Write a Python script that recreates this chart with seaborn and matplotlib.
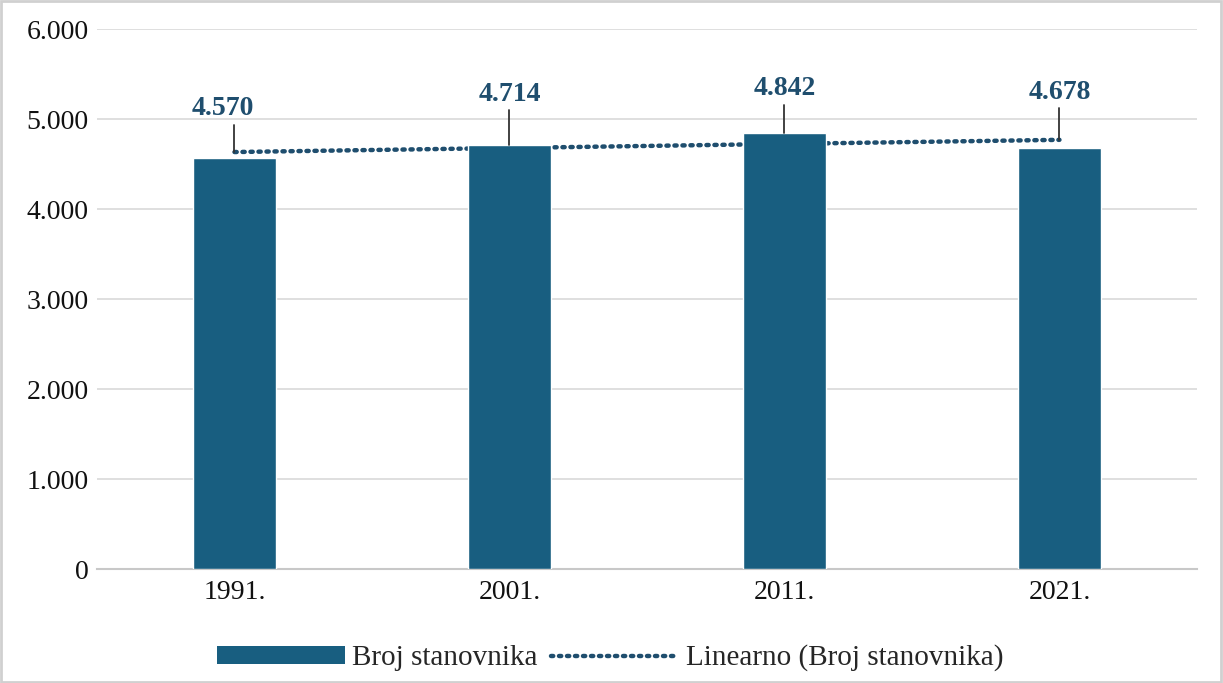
import numpy as np
import pandas as pd
import matplotlib
matplotlib.use("Agg")
import matplotlib.pyplot as plt
import seaborn as sns
from matplotlib.lines import Line2D
from matplotlib.patches import Patch, Rectangle

years = ["1991.", "2001.", "2011.", "2021."]
population = [4570, 4714, 4842, 4678]
yticks = [0, 1000, 2000, 3000, 4000, 5000, 6000]
ytick_labels = ["0", "1.000", "2.000", "3.000", "4.000", "5.000", "6.000"]
value_labels = ["4.570", "4.714", "4.842", "4.678"]

bar_color = "#185E80"
label_color = "#1F4E6E"

sns.set_theme(style="white")
plt.rcParams["font.family"] = ["Liberation Serif", "DejaVu Serif"]

fig = plt.figure(figsize=(12.23, 6.83), dpi=100)
ax = fig.add_axes([0.0793, 0.1669, 0.8994, 0.7906])

df = pd.DataFrame({"year": years, "pop": population})

# trend line (linear fit) drawn below bars
xs = np.arange(len(years))
coef = np.polyfit(xs, population, 1)
trend = np.polyval(coef, xs)
dot_style = (0, (0.5, 1.3))
ax.plot(xs, trend, linestyle=dot_style, dash_capstyle="round", color=label_color,
        linewidth=3.2, zorder=2)

sns.barplot(data=df, x="year", y="pop", color=bar_color, width=0.305, saturation=1,
            ax=ax, zorder=3)

ax.set_ylim(0, 6000)
ax.set_xlim(-0.5, 3.5)
ax.set_yticks(yticks)
ax.set_yticklabels(ytick_labels)
ax.set_xlabel("")
ax.set_ylabel("")
ax.yaxis.grid(True, color="#D9D9D9", linewidth=1.2)
ax.set_axisbelow(True)
for s in ["left", "right", "top"]:
    ax.spines[s].set_visible(False)
ax.spines["bottom"].set_color("#C8C8C8")
ax.spines["bottom"].set_linewidth(1.5)
ax.tick_params(axis="both", length=0, labelsize=20, colors="#111111")
ax.tick_params(axis="y", pad=6)
ax.tick_params(axis="x", pad=8)

# data labels with leader lines
label_y = [5122, 5267, 5344, 5300]
label_dx = [-0.044, 0, 0, 0]
leader_top = [4933, 5100, 5155, 5122]
for i, (v, lab, ly, lt, dx) in enumerate(zip(population, value_labels, label_y,
                                             leader_top, label_dx)):
    bottom = trend[i] if trend[i] > v else v
    ax.plot([i, i], [bottom, lt], color="#333333", linewidth=1.3, zorder=4)
    ax.text(i + dx, ly, lab, ha="center", va="center", fontsize=20, fontweight="bold",
            color=label_color, zorder=5)

handles = [Patch(facecolor=bar_color, edgecolor="none", label="Broj stanovnika"),
           Line2D([0], [0], linestyle=dot_style, dash_capstyle="round",
                  color=label_color, linewidth=3.2, label="Linearno (Broj stanovnika)")]
fig.legend(handles=handles, loc="center", bbox_to_anchor=(0.4988, 1 - 658 / 683), ncol=2,
           frameon=False, fontsize=21, handlelength=4.4, handleheight=0.54,
           handletextpad=0.24, columnspacing=0.45, borderpad=0)

fig.patches.append(Rectangle((0.001, 0.002), 0.997, 0.996, transform=fig.transFigure,
                             fill=False, edgecolor="#D0D0D0", linewidth=2))

fig.savefig("out.png", dpi=100)
